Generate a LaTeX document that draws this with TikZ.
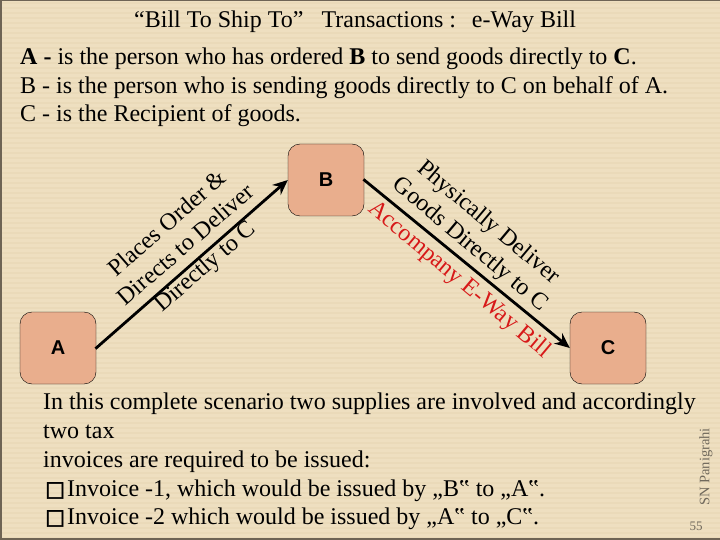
\documentclass[tikz,border=0pt]{standalone}
\usepackage{fontspec}
\setmainfont{Liberation Serif}
\newfontfamily\boxfont{Liberation Sans}
\newfontfamily\symfont[FakeBold=2.5]{DejaVu Sans}
\usepackage{xcolor}
\usetikzlibrary{arrows.meta}
\definecolor{slidetan}{RGB}{238,223,192}
\definecolor{stripetan}{RGB}{234,218,185}
\definecolor{boxpeach}{RGB}{233,174,141}
\definecolor{edgegray}{RGB}{110,100,85}
\definecolor{footgray}{RGB}{112,105,92}
\definecolor{billred}{RGB}{215,25,25}
\newcommand{\tickbox}{\makebox[22pt][l]{\symfont\fontsize{21}{24}\selectfont □}}
\tikzset{
  party/.style={draw=black, fill=boxpeach, rounded corners=12pt, minimum width=76pt, minimum height=72pt, inner sep=0pt, font=\boxfont\bfseries\fontsize{20}{22}\selectfont},
  flow/.style={-{Stealth[length=15pt,width=13pt]}, line width=2.8pt, shorten <=-1pt},
  slideline/.style={anchor=base west, inner sep=0pt, font=\fontsize{24}{28}\selectfont},
  flowlabel/.style={align=center, inner sep=0pt, font=\fontsize{24}{28.5}\selectfont}
}
\begin{document}
\begin{tikzpicture}[x=1pt, y=-1pt]
\useasboundingbox (0, 0) rectangle (720, 540);

% Background
\fill[slidetan] (0, 0) rectangle (720, 540);
\foreach \y in {2, 7, ..., 537} {
    \fill[stripetan] (0, \y) rectangle (720, \y+2);
}
\fill[edgegray] (0, 0) rectangle (720, 1.5);
\fill[edgegray] (0, 538) rectangle (720, 540);
\fill[edgegray] (0, 0) rectangle (1.5, 540);

% Title and top text
\node[slideline] (title) at (134, 27.5) {“Bill To Ship To”\hspace{18pt}Transactions :\hspace{16pt}e-Way Bill};
\node[slideline] (lineA) at (20, 65) {\textbf{A -} is the person who has ordered \textbf{B} to send goods directly to \textbf{C}.};
\node[slideline] (lineB) at (20, 94) {B - is the person who is sending goods directly to C on behalf of A.};
\node[slideline] (lineC) at (20, 122) {C - is the Recipient of goods.};

% Parties
\node[party] (A) at (58, 348) {A};
\node[party] (B) at (326, 180) {B};
\node[party] (C) at (608, 348) {C};

% Arrows
\draw[flow] (A.east) -- (B.west);
\draw[flow] (B.east) -- (C.west);

% Arrow labels
\node[flowlabel, rotate=41] (order) at (187, 246) {Places Order \&\\Directs to Deliver\\Directly to C};
\node[flowlabel, rotate=-40] (deliver) at (479, 234) {Physically Deliver\\Goods Directly to C};
\node[flowlabel, rotate=-40, text=billred] (bill) at (459, 280) {Accompany E-Way Bill};

% Bottom text
\node[slideline] (scene1) at (43, 409) {In this complete scenario two supplies are involved and accordingly};
\node[slideline] (scene2) at (43, 438) {two tax};
\node[slideline] (scene3) at (43, 467) {invoices are required to be issued:};
\node[slideline] (scene4) at (45, 496) {\tickbox Invoice -1, which would be issued by „B‟ to „A‟.};
\node[slideline] (scene5) at (45, 524) {\tickbox Invoice -2 which would be issued by „A‟ to „C‟.};

% Footer
\node[rotate=90, text=footgray, inner sep=0pt, font=\fontsize{14.5}{16}\selectfont] (author) at (706, 467) {SN Panigrahi};
\node[text=footgray, inner sep=0pt, font=\fontsize{13}{15}\selectfont] (page) at (696, 526) {55};

\end{tikzpicture}
\end{document}
